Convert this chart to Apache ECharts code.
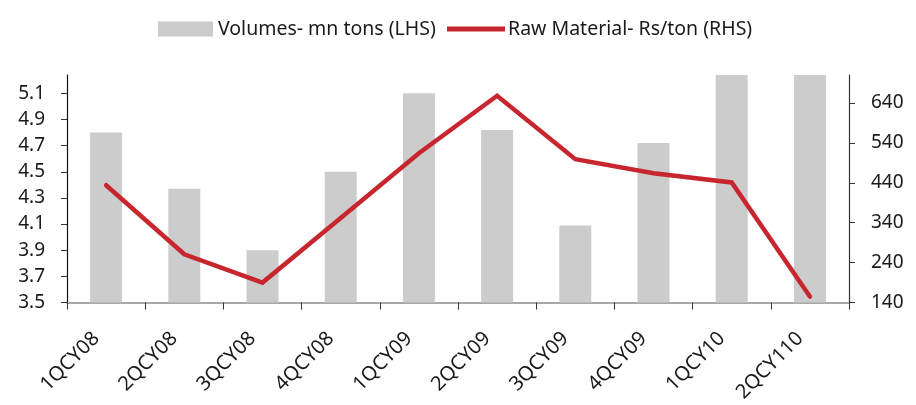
<!DOCTYPE html>
<html>
<head>
<meta charset="utf-8">
<script src="https://cdn.jsdelivr.net/npm/echarts@6/dist/echarts.min.js"></script>
<style>
  html, body { margin: 0; padding: 0; background: #fff; }
  #chart { width: 916px; height: 405px; }
</style>
</head>
<body>
<div id="chart"></div>
<script>
// Quarterly volumes (mn tons, left axis) and raw material cost (Rs/ton, right axis)
const quarters = ['1QCY08', '2QCY08', '3QCY08', '4QCY08', '1QCY09', '2QCY09', '3QCY09', '4QCY09', '1QCY10', '2QCY110'];
const volumes = [4.80, 4.37, 3.90, 4.50, 5.10, 4.82, 4.09, 4.72, 5.24, 5.24];
const rawMaterial = [434, 261, 190, 352, 514, 658, 499, 464, 441, 155];
const leftTicks = [3.5, 3.7, 3.9, 4.1, 4.3, 4.5, 4.7, 4.9, 5.1];
const rightTicks = [140, 240, 340, 440, 540, 640];

const volName = 'Volumes- mn tons (LHS)';
const rawName = 'Raw Material- Rs/ton (RHS)';
const FONT = 'Noto Sans';
const TEXT = '#1a1a1a';

const chart = echarts.init(document.getElementById('chart'), null, { renderer: 'canvas' });
chart.setOption({
  animation: false,
  backgroundColor: '#ffffff',
  textStyle: { fontFamily: FONT, color: TEXT },
  legend: [
    {
      data: [{ name: volName, icon: 'rect' }],
      left: 153, top: 14,
      itemWidth: 55, itemHeight: 15, itemGap: 0,
      textStyle: { fontFamily: FONT, fontSize: 19.5, color: TEXT }
    },
    {
      data: [{ name: rawName, icon: 'rect' }],
      left: 442, top: 14,
      itemWidth: 58, itemHeight: 5, itemGap: 0,
      textStyle: { fontFamily: FONT, fontSize: 19.5, color: TEXT, padding: [0, 0, 0, -2] }
    }
  ],
  grid: { left: 67, right: 67, top: 75, bottom: 101, containLabel: false },
  xAxis: {
    type: 'category',
    data: quarters,
    boundaryGap: true,
    axisLine: { lineStyle: { color: '#8c8c8c', width: 1.5 } },
    axisTick: { show: true, length: 7, lineStyle: { color: '#333' } },
    axisLabel: {
      rotate: 45, interval: 0, margin: 23,
      fontFamily: FONT, fontSize: 20, color: TEXT,
      // trailing gap pulls each rotated label back from its tick
      formatter: v => '{t|' + v + '}{g|}',
      rich: {
        t: { fontFamily: FONT, fontSize: 20, color: TEXT },
        g: { width: 14 }
      }
    },
    splitLine: { show: false }
  },
  yAxis: [
    {
      type: 'value', min: 3.5, max: 5.24,
      axisLine: { show: true, lineStyle: { color: '#111', width: 1.2 } },
      axisTick: { show: true, length: 6, lineStyle: { color: '#333' }, customValues: leftTicks },
      axisLabel: {
        margin: 22, fontFamily: FONT, fontSize: 19, color: TEXT,
        customValues: leftTicks,
        formatter: v => v.toFixed(1)
      },
      splitLine: { show: false }
    },
    {
      type: 'value', min: 140, max: 710,
      axisLine: { show: true, lineStyle: { color: '#333', width: 1.2 } },
      axisTick: { show: true, length: 6, lineStyle: { color: '#333' }, customValues: rightTicks },
      axisLabel: {
        margin: 22, fontFamily: FONT, fontSize: 19, color: TEXT,
        customValues: rightTicks
      },
      splitLine: { show: false }
    }
  ],
  series: [
    {
      name: volName,
      type: 'bar',
      yAxisIndex: 0,
      data: volumes,
      barWidth: 32,
      itemStyle: { color: '#cccccc' },
      z: 1
    },
    {
      name: rawName,
      type: 'line',
      yAxisIndex: 1,
      data: rawMaterial,
      symbol: 'none',
      clip: false,
      lineStyle: { color: '#c8262e', width: 4.5, cap: 'round', join: 'miter' },
      itemStyle: { color: '#c8262e' },
      z: 3
    }
  ]
});
</script>
</body>
</html>
